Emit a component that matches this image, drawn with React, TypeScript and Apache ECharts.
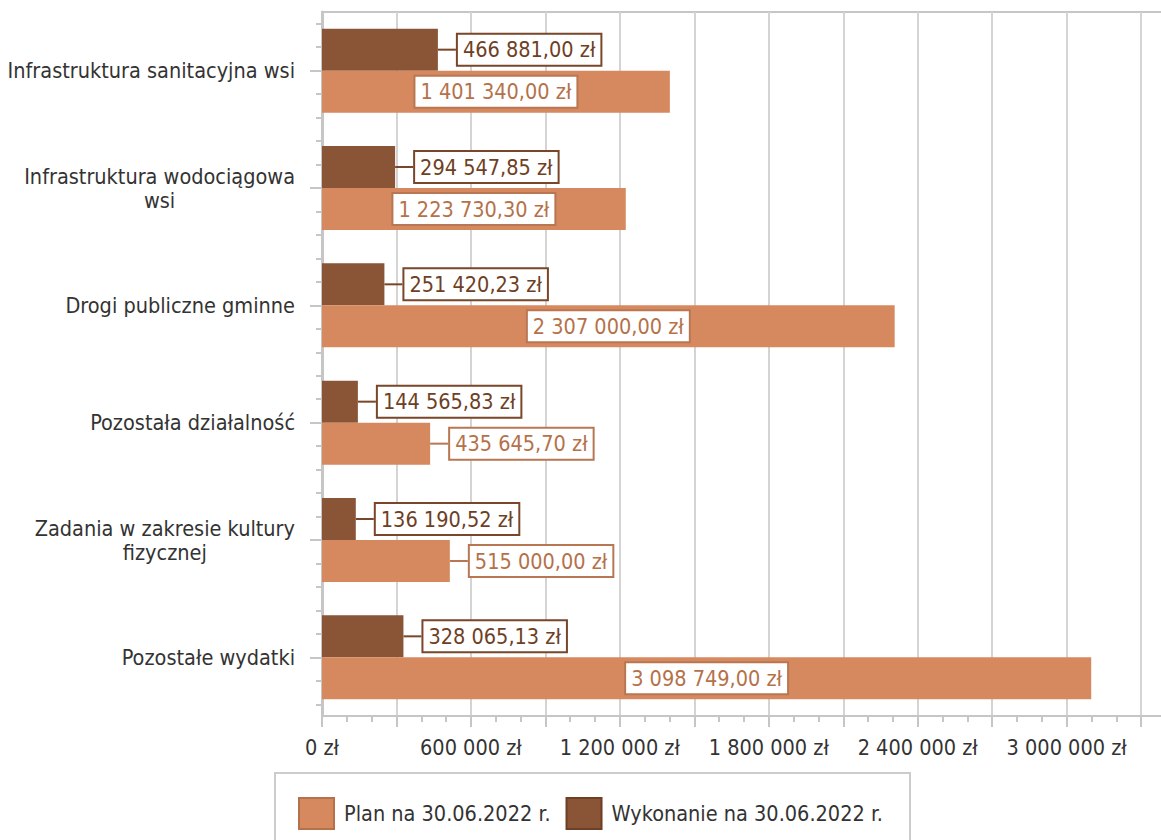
import React, { useEffect, useRef } from "react";
import * as echarts from "echarts";

const categories = [
  "Infrastruktura sanitacyjna wsi",
  "Infrastruktura wodociągowa\nwsi",
  "Drogi publiczne gminne",
  "Pozostała działalność",
  "Zadania w zakresie kultury\nfizycznej",
  "Pozostałe wydatki",
];
const planValues = [1401340.0, 1223730.3, 2307000.0, 435645.7, 515000.0, 3098749.0];
const wykonanieValues = [466881.0, 294547.85, 251420.23, 144565.83, 136190.52, 328065.13];
const planLabelOutside = [false, false, false, true, true, false];
const seriesNames = ["Plan na 30.06.2022 r.", "Wykonanie na 30.06.2022 r."];
const minorCategoryTicks = Array.from({ length: 30 }, (_, i) => String(i));

const FONT = "'DejaVu Sans Condensed', 'Liberation Sans', sans-serif";
const FS = 21.5;
const PLAN_COLOR = "#D6895F";
const PLAN_DARK = "#B5714A";
const WYK_COLOR = "#8A5537";
const WYK_DARK = "#6E3F24";
const GRID_COLOR = "#D4D4D4";
const AXIS_COLOR = "#C6C6C6";

function groupInt(n: number): string {
  const s = String(Math.round(Math.abs(n)));
  return s.replace(/\B(?=(\d{3})+(?!\d))/g, " ");
}
function fmtMoney(v: number): string {
  const fixed = v.toFixed(2);
  const [i, d] = fixed.split(".");
  return groupInt(Number(i)) + "," + d + " zł";
}

export default function App() {
  const ref = useRef<HTMLDivElement>(null);
  useEffect(() => {
    if (!ref.current) return;
    const chart = echarts.init(ref.current, undefined, { renderer: "svg" });
    const labelBase = {
      show: true,
      fontFamily: FONT,
      fontSize: FS,
      lineHeight: 24,
      backgroundColor: "#ffffff",
      borderWidth: 2,
      padding: [3, 5, 3, 5],
      formatter: (p: any) => fmtMoney(p.value),
    };
    const option: any = {
      animation: false,
      backgroundColor: "#ffffff",
      textStyle: { fontFamily: FONT },
      grid: {
        left: 322,
        top: 12,
        width: 844,
        height: 704,
        show: true,
        borderColor: AXIS_COLOR,
        borderWidth: 2,
        containLabel: false,
        outerBoundsMode: "none",
      },
      legend: {
        left: 298,
        top: 797,
        padding: 0,
        itemWidth: 35,
        itemHeight: 31,
        itemGap: 15,
        icon: "rect",
        textStyle: {
          fontFamily: FONT,
          fontSize: FS,
          color: "#333333",
          padding: [0, 0, 0, 5],
        },
        data: [
          { name: seriesNames[0], itemStyle: { borderColor: PLAN_DARK, borderWidth: 2 } },
          { name: seriesNames[1], itemStyle: { borderColor: WYK_DARK, borderWidth: 2 } },
        ],
      },
      graphic: [
        {
          type: "rect",
          shape: { x: 275, y: 773, width: 635, height: 90 },
          style: { fill: "none", stroke: "#CCCCCC", lineWidth: 2 },
          silent: true,
        },
      ],
      xAxis: {
        type: "value",
        min: 0,
        max: 3400000,
        interval: 300000,
        axisLine: { show: true, lineStyle: { color: AXIS_COLOR, width: 2 } },
        axisTick: { show: true, length: 11, lineStyle: { color: AXIS_COLOR, width: 2 } },
        minorTick: { show: true, splitNumber: 3, length: 6, lineStyle: { color: AXIS_COLOR, width: 2 } },
        splitLine: { show: true, lineStyle: { color: GRID_COLOR, width: 2 } },
        axisLabel: {
          fontFamily: FONT,
          fontSize: FS,
          color: "#333333",
          margin: 20,
          formatter: (v: number) => (v % 600000 === 0 && v <= 3000000 ? groupInt(v) + " zł" : ""),
        },
      },
      yAxis: [
        {
          type: "category",
          data: categories,
          inverse: true,
          position: "left",
          axisLine: { show: true, lineStyle: { color: AXIS_COLOR, width: 3 } },
          axisTick: { show: true, alignWithLabel: true, length: 12, lineStyle: { color: AXIS_COLOR, width: 2 } },
          splitLine: { show: false },
          axisLabel: {
            margin: 27,
            formatter: (v: string) =>
              v
                .split("\n")
                .map((l) => "{c|" + l + "}")
                .join("\n"),
            rich: {
              c: {
                align: "center",
                fontFamily: FONT,
                fontSize: FS,
                lineHeight: 24,
                color: "#333333",
              },
            },
          },
        },
        {
          type: "category",
          data: minorCategoryTicks,
          inverse: true,
          position: "left",
          axisLine: { show: false },
          axisTick: { show: true, alignWithLabel: true, length: 6, lineStyle: { color: AXIS_COLOR, width: 2 } },
          axisLabel: { show: false },
          splitLine: { show: false },
        },
      ],
      series: [
        {
          name: seriesNames[1],
          type: "bar",
          yAxisIndex: 0,
          barWidth: 42,
          barGap: "0%",
          itemStyle: { color: WYK_COLOR },
          label: {
            ...labelBase,
            position: "right",
            distance: 0,
            color: WYK_DARK,
            borderColor: "#7A4629",
          },
          labelLayout: { dx: 20 },
          labelLine: { show: true, lineStyle: { color: "#7A4629", width: 2 } },
          data: wykonanieValues,
        },
        {
          name: seriesNames[0],
          type: "bar",
          yAxisIndex: 0,
          barWidth: 42,
          barGap: "0%",
          itemStyle: { color: PLAN_COLOR },
          label: {
            ...labelBase,
            position: "inside",
            color: PLAN_DARK,
            borderColor: "#B87752",
          },
          labelLayout: (p: any) => (planLabelOutside[p.dataIndex] ? { dx: 20 } : {}),
          labelLine: { show: false, lineStyle: { color: "#B87752", width: 2 } },
          data: planValues.map((v, i) =>
            planLabelOutside[i]
              ? { value: v, label: { position: "right", distance: 0 }, labelLine: { show: true } }
              : { value: v }
          ),
        },
      ],
    };
    chart.setOption(option);
    return () => chart.dispose();
  }, []);
  return (
    <div
      ref={ref}
      style={{ position: "fixed", left: 0, top: 0, width: 1161, height: 840, background: "#fff" }}
    />
  );
}
